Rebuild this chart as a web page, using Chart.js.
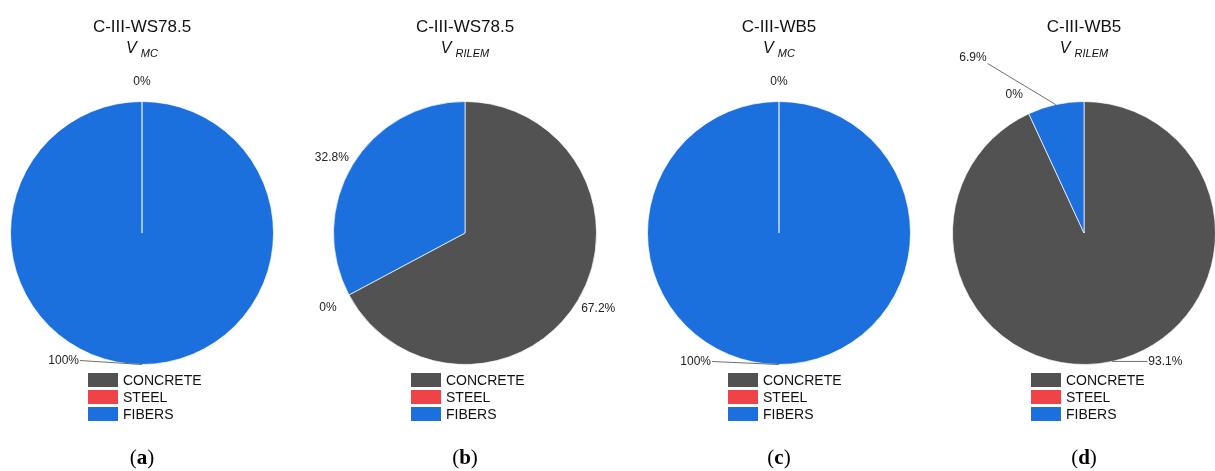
<!DOCTYPE html>
<html>
<head>
<meta charset="utf-8">
<title>Volume shares</title>
<script src="https://cdn.jsdelivr.net/npm/chart.js@4.4.1/dist/chart.umd.min.js"></script>
<style>
  html, body { margin: 0; padding: 0; background: #ffffff; }
  body { position: relative; width: 1215px; height: 471px; overflow: hidden; }
  canvas { position: absolute; top: 0; }
</style>
</head>
<body>
<script>
// ---- data ----
const categories = ['CONCRETE', 'STEEL', 'FIBERS'];
const sliceColors = ['#525252', '#f04347', '#1b70de'];

const panelTitles = ['C-III-WS78.5', 'C-III-WS78.5', 'C-III-WB5', 'C-III-WB5'];
const panelMethods = ['MC', 'RILEM', 'MC', 'RILEM'];
const panelLetters = ['a', 'b', 'c', 'd'];

const sharesWS785MC = [0, 0, 100];
const sharesWS785RILEM = [67.2, 0, 32.8];
const sharesWB5MC = [0, 0, 100];
const sharesWB5RILEM = [93.1, 0, 6.9];

const panelShares = [sharesWS785MC, sharesWS785RILEM, sharesWB5MC, sharesWB5RILEM];

// ---- layout ----
const panelCenters = [142, 465, 779, 1084];
const legendInsets = [54, 54, 51, 53];
const CANVAS_W = 400, CANVAS_H = 471;
const SANS = '"Liberation Sans", Arial, Helvetica, sans-serif';
const SERIF = '"Liberation Serif", "Times New Roman", Times, serif';

// label leader lines, relative to the slice's outer mid point
const panelLeaders = [
  { 2: { dx: -62, dy: -4 } },
  {},
  { 2: { dx: -67, dy: -3 } },
  { 0: { dx: 35, dy: 0 }, 2: { dx: -68, dy: -41, above: true } }
];

function decorPlugin(i) {
  return {
    id: 'panelDecor' + i,
    afterDatasetsDraw(chart) {
      const ctx = chart.ctx;
      const mid = CANVAS_W / 2;
      ctx.save();

      // slice value labels
      const meta = chart.getDatasetMeta(0);
      const values = chart.data.datasets[0].data;
      const leaders = panelLeaders[i];
      const placed = [];
      const h = 12;
      ctx.font = '12px ' + SANS;
      ctx.textBaseline = 'middle';
      ctx.textAlign = 'left';
      meta.data.forEach((arc, k) => {
        const p = arc.getProps(['x', 'y', 'startAngle', 'endAngle', 'outerRadius'], true);
        const a = (p.startAngle + p.endAngle) / 2;
        const text = values[k] + '%';
        const w = ctx.measureText(text).width;
        const lead = leaders[k];
        let left, top, line = null;
        if (lead) {
          const px = p.x + Math.cos(a) * p.outerRadius;
          const py = p.y + Math.sin(a) * p.outerRadius;
          const ex = px + lead.dx, ey = py + lead.dy;
          line = [px, py, ex, ey];
          left = lead.dx < 0 ? ex - 1 - w : ex + 1;
          top = lead.above ? ey - h : ey - h / 2;
        } else {
          const gap = values[k] === 0 ? 14 : 4;
          const ax = p.x + Math.cos(a) * (p.outerRadius + gap);
          const ay = p.y + Math.sin(a) * (p.outerRadius + gap);
          const s = Math.cos(a), u = Math.sin(a);
          left = s > 0.1 ? ax : (s < -0.1 ? ax - w : ax - w / 2);
          top = u < -0.1 ? ay - h : (u > 0.1 ? ay : ay - h / 2);
        }
        const box = { l: left, t: top, r: left + w, b: top + h };
        const hit = placed.some(q => box.l < q.r && box.r > q.l && box.t < q.b && box.b > q.t);
        if (hit) return;
        placed.push(box);
        if (line) {
          ctx.strokeStyle = '#6f6f6f';
          ctx.lineWidth = 1;
          ctx.beginPath();
          ctx.moveTo(line[0], line[1]);
          ctx.lineTo(line[2], line[3]);
          ctx.stroke();
        }
        ctx.fillStyle = '#222222';
        ctx.fillText(text, left, top + h / 2);
      });

      // title
      ctx.textBaseline = 'alphabetic';
      ctx.textAlign = 'center';
      ctx.fillStyle = '#111111';
      ctx.font = '17px ' + SANS;
      ctx.fillText(panelTitles[i], mid, 32);

      // subtitle: V with method subscript
      ctx.textAlign = 'left';
      const vFont = 'italic 16px ' + SANS;
      const subFont = 'italic 11px ' + SANS;
      ctx.font = vFont;
      const vW = ctx.measureText('V').width;
      ctx.font = subFont;
      const sW = ctx.measureText(panelMethods[i]).width;
      const gapV = 4;
      const x0 = mid - (vW + gapV + sW) / 2;
      ctx.font = vFont;
      ctx.fillText('V', x0, 53);
      ctx.font = subFont;
      ctx.fillText(panelMethods[i], x0 + vW + gapV, 57);

      // legend
      const lx = mid - legendInsets[i];
      categories.forEach((name, k) => {
        const ty = 373 + k * 17;
        ctx.fillStyle = sliceColors[k];
        ctx.fillRect(lx, ty, 30, 14);
        ctx.fillStyle = '#111111';
        ctx.font = '14px ' + SANS;
        ctx.fillText(name, lx + 35, ty + 12);
      });

      // panel letter
      const regular = '21px ' + SERIF;
      const bold = 'bold 21px ' + SERIF;
      ctx.font = regular;
      const pW = ctx.measureText('(').width;
      const qW = ctx.measureText(')').width;
      ctx.font = bold;
      const lW = ctx.measureText(panelLetters[i]).width;
      let px0 = mid - (pW + lW + qW) / 2;
      ctx.fillStyle = '#000000';
      ctx.font = regular;
      ctx.fillText('(', px0, 464);
      ctx.font = bold;
      ctx.fillText(panelLetters[i], px0 + pW, 464);
      ctx.font = regular;
      ctx.fillText(')', px0 + pW + lW, 464);

      ctx.restore();
    }
  };
}

function makePanel(i) {
  const cx = panelCenters[i];
  const canvas = document.createElement('canvas');
  canvas.width = CANVAS_W;
  canvas.height = CANVAS_H;
  canvas.style.left = (cx - CANVAS_W / 2) + 'px';
  canvas.style.width = CANVAS_W + 'px';
  canvas.style.height = CANVAS_H + 'px';
  document.body.appendChild(canvas);
  new Chart(canvas, {
    type: 'pie',
    data: {
      labels: categories,
      datasets: [{
        data: panelShares[i],
        backgroundColor: sliceColors,
        borderColor: 'rgba(255,255,255,0.7)',
        borderWidth: 1
      }]
    },
    options: {
      responsive: false,
      animation: false,
      events: [],
      layout: { padding: { left: 68, right: 68, top: 101, bottom: 106 } },
      plugins: {
        legend: { display: false },
        tooltip: { enabled: false }
      }
    },
    plugins: [decorPlugin(i)]
  });
}

panelShares.forEach((_, i) => makePanel(i));
</script>
</body>
</html>
